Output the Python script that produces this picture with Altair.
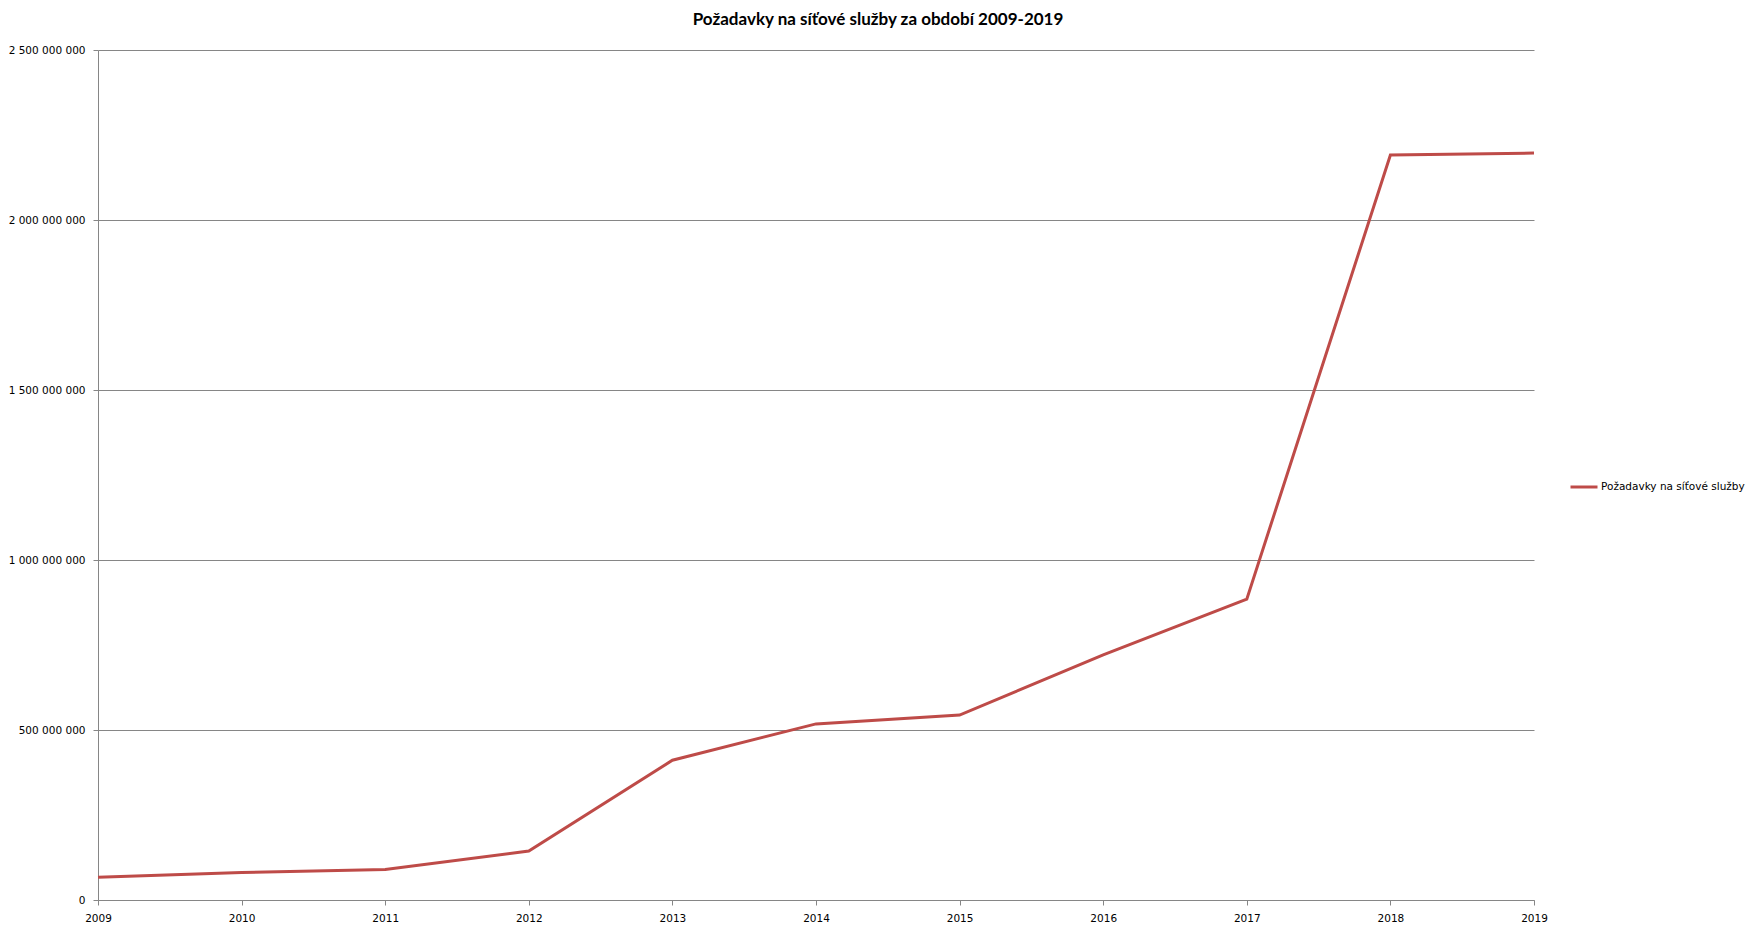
import altair as alt
import pandas as pd

years = [2009, 2010, 2011, 2012, 2013, 2014, 2015, 2016, 2017, 2018, 2019]
values = [67e6, 81e6, 90e6, 144e6, 411e6, 518e6, 544e6, 721e6, 885e6, 2191e6, 2197e6]
series_name = "Požadavky na síťové služby"
title_text = "Požadavky na síťové služby za období 2009-2019"

df = pd.DataFrame({"rok": years, "pocet": values, "serie": [series_name] * len(years)})

AXIS_FONT = "DejaVu Sans"

chart = (
    alt.Chart(df)
    .mark_line(strokeWidth=3)
    .encode(
        x=alt.X(
            "rok:Q",
            scale=alt.Scale(domain=[2009, 2019], nice=False, zero=False),
            axis=alt.Axis(
                title=None,
                values=years,
                format="d",
                grid=False,
                labelFlush=False,
                labelOverlap=False,
                tickSize=5,
                labelPadding=8,
            ),
        ),
        y=alt.Y(
            "pocet:Q",
            scale=alt.Scale(domain=[0, 2500000000], nice=False),
            axis=alt.Axis(
                title=None,
                values=[0, 500000000, 1000000000, 1500000000, 2000000000, 2500000000],
                labelExpr="replace(format(datum.value, ',d'), regexp(',', 'g'), ' ')",
                grid=True,
                tickSize=5,
                labelPadding=8,
                labelFlush=False,
            ),
        ),
        color=alt.Color(
            "serie:N",
            scale=alt.Scale(range=["#BE4B48"]),
            legend=alt.Legend(
                title=None,
                orient="none",
                legendX=1471,
                legendY=422,
                symbolType="stroke",
                symbolStrokeWidth=3,
                symbolSize=729,
                labelOffset=2,
                labelFont=AXIS_FONT,
                labelFontSize=10.5,
                labelColor="#000000",
            ),
        ),
    )
    .properties(
        width=1436,
        height=850,
        title=alt.TitleParams(
            text=title_text,
            font="Lato",
            fontSize=17,
            fontWeight="bold",
            color="#000000",
            anchor="middle",
            dx=62,
            offset=16,
        ),
        autosize=alt.AutoSizeParams(type="none"),
        padding={"left": 90, "top": 42, "right": 215, "bottom": 25},
    )
    .configure_view(stroke=None)
    .configure_axis(
        domainColor="#868686",
        tickColor="#868686",
        gridColor="#868686",
        domainWidth=1,
        gridWidth=1,
        labelFont=AXIS_FONT,
        labelFontSize=10.5,
        labelColor="#000000",
    )
)

chart.save("out.html", embed_options={"renderer": "svg", "actions": False})
